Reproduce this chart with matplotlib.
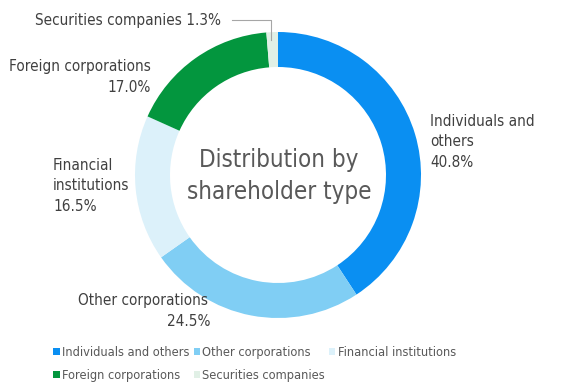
import matplotlib.pyplot as plt
from matplotlib.patches import Patch

# shareholder distribution (%)
categories = ['Individuals and others', 'Other corporations', 'Financial institutions',
              'Foreign corporations', 'Securities companies']
shares = [40.8, 24.5, 16.5, 17.0, 1.3]
colors = ['#0a8ff2', '#80cef4', '#dcf1fa', '#03963e', '#e1f0e6']

plt.rcParams['font.family'] = ['DejaVu Sans']
plt.rcParams['font.stretch'] = 'condensed'

fig = plt.figure(figsize=(5.65, 3.9), dpi=100)
ax = fig.add_axes([0, 0, 1, 1])

# y axis is flipped below, so -90 is the top and counterclock runs clockwise on screen
wedges, _ = ax.pie(shares, colors=colors, startangle=-90, counterclock=True,
                   center=(278, 175), radius=143,
                   wedgeprops=dict(width=35, linewidth=0))
ax.set_xlim(0, 565)
ax.set_ylim(390, 0)
ax.set_aspect('equal')
ax.axis('off')

lab = '#404040'
fs = 11
ax.text(221, 20, 'Securities companies 1.3%', ha='right', va='center', fontsize=fs, color=lab)
ax.plot([232, 271, 271], [20, 20, 40], color='#a6a6a6', lw=0.8)
ax.text(151, 66, 'Foreign corporations', ha='right', va='center', fontsize=fs, color=lab)
ax.text(151, 88, '17.0%', ha='right', va='center', fontsize=fs, color=lab)
ax.text(430, 142, 'Individuals and\nothers\n40.8%', ha='left', va='center', fontsize=fs,
        color=lab, linespacing=1.45)
ax.text(53, 186, 'Financial\ninstitutions\n16.5%', ha='left', va='center', fontsize=fs,
        color=lab, linespacing=1.45)
ax.text(78, 300, 'Other corporations', ha='left', va='center', fontsize=fs, color=lab)
ax.text(211, 322, '24.5%', ha='right', va='center', fontsize=fs, color=lab)

ax.text(279, 176, 'Distribution by\nshareholder type', ha='center', va='center',
        fontsize=17.3, color='#595959', linespacing=1.4)

# legend filled row by row: reorder for matplotlib's column-first fill
order = [0, 3, 1, 4, 2]
handles = [Patch(facecolor=colors[i], edgecolor='none') for i in order]
leg = fig.legend(handles, [categories[i] for i in order], ncol=3, loc='center left',
                 bbox_to_anchor=(47 / 565, 1 - 364 / 390), frameon=False,
                 fontsize=9.2, handlelength=0.5, handleheight=0.5, handletextpad=0.2,
                 columnspacing=0.3, labelspacing=0.75, borderpad=0)
for t in leg.get_texts():
    t.set_color('#595959')

fig.savefig('out.png', dpi=100)
